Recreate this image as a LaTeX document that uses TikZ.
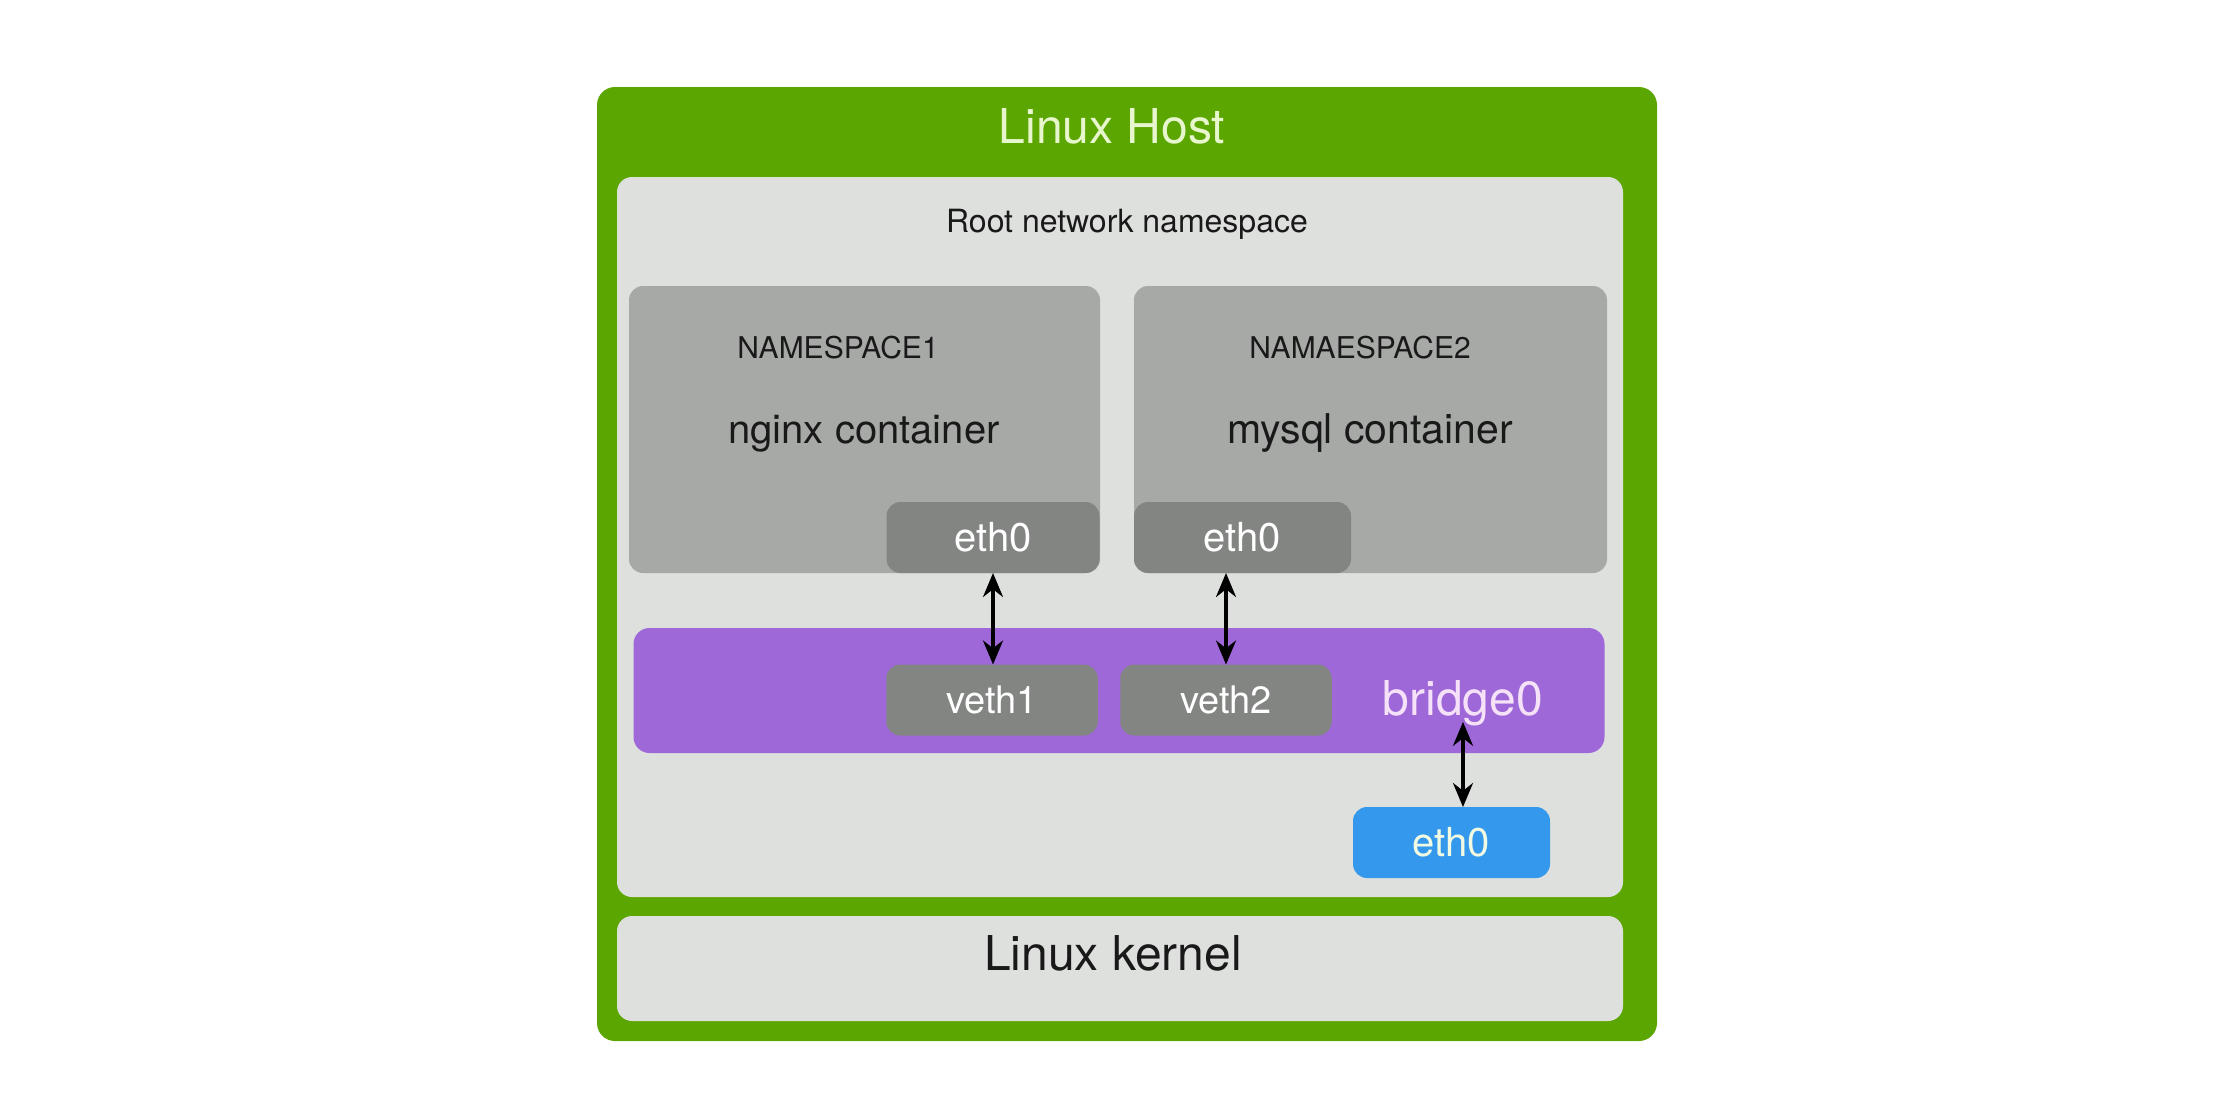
\documentclass[tikz,border=0pt]{standalone}
\usepackage{fontspec}
\setmainfont{TeX Gyre Heros}
\usetikzlibrary{arrows.meta}
\definecolor{hostgreen}{RGB}{91,166,0}
\definecolor{panelgray}{RGB}{222,224,222}
\definecolor{nsgray}{RGB}{167,169,167}
\definecolor{ifgray}{RGB}{131,133,131}
\definecolor{bridgepurple}{RGB}{158,104,216}
\definecolor{hostblue}{RGB}{52,153,236}
\definecolor{hosttext}{RGB}{232,246,206}
\definecolor{bridgetext}{RGB}{246,226,248}
\definecolor{darktext}{RGB}{25,25,25}
\tikzset{
  panel/.style={rectangle, rounded corners=#1, inner sep=0pt, outer sep=0pt},
  panel/.default=7pt,
  iface/.style={panel=7pt, fill=ifgray, text=white, font=\fontsize{20}{24}\selectfont,
    minimum width=106.5pt, minimum height=35.5pt},
  title/.style={anchor=base, inner sep=0pt, text=darktext},
  link/.style={draw=black, line width=1.7pt, {Stealth[length=12pt,width=10pt]}-{Stealth[length=12pt,width=10pt]}}
}
\begin{document}
\begin{tikzpicture}[x=0.5pt,y=-0.5pt]
\useasboundingbox (0,0) rectangle (2240,1120);
\fill[white] (0,0) rectangle (2240,1120);
% outer host
\node[panel=9pt, fill=hostgreen, minimum width=530pt, minimum height=477pt] (host) at (1127,564) {};
\node[title, text=hosttext, font=\fontsize{24}{28}\selectfont] (hostlabel) at (1112,143) {Linux Host};
% root namespace
\node[panel=7.5pt, fill=panelgray, minimum width=503pt, minimum height=360pt] (root) at (1120,537) {};
\node[title, font=\fontsize{16}{19}\selectfont] (rootlabel) at (1127,232) {Root network namespace};
% kernel
\node[panel=7.5pt, fill=panelgray, minimum width=503pt, minimum height=52.5pt] (kernel) at (1120,968.5) {};
\node[title, font=\fontsize{24}{28}\selectfont] (kernellabel) at (1113,970) {Linux kernel};
% namespaces
\node[panel=7pt, fill=nsgray, minimum width=235.5pt, minimum height=143.5pt] (ns1) at (864.5,429.5) {};
\node[panel=7pt, fill=nsgray, minimum width=236.5pt, minimum height=143.5pt] (ns2) at (1370.5,429.5) {};
\node[title, font=\fontsize{15}{18}\selectfont] (ns1label) at (838,358) {NAMESPACE1};
\node[title, font=\fontsize{15}{18}\selectfont] (ns2label) at (1360,358) {NAMAESPACE2};
\node[title, font=\fontsize{20}{24}\selectfont] (ns1c) at (864,443) {nginx container};
\node[title, font=\fontsize{20.5}{24}\selectfont] (ns2c) at (1370,443) {mysql container};
\node[iface] (etha) at (993,537.5) {eth0};
\node[iface, minimum width=108.5pt] (ethb) at (1242.5,537.5) {eth0};
% bridge
\node[panel=8pt, fill=bridgepurple, minimum width=485.5pt, minimum height=62.5pt] (bridge) at (1119,690.5) {};
\node[iface, font=\fontsize{19}{23}\selectfont, minimum width=105.75pt] (veth1) at (992,700) {veth1};
\node[iface, font=\fontsize{19}{23}\selectfont, minimum width=105.75pt] (veth2) at (1226,700) {veth2};
\node[title, text=bridgetext, font=\fontsize{24}{28}\selectfont] (bridgelabel) at (1463,715) {bridge0};
% host eth0
\node[iface, fill=hostblue, text=hosttext!60!white, minimum width=98.5pt] (ethh) at (1451.5,842.5) {eth0};
% links
\draw[link] (etha.south) -- (veth1.north -| etha.south);
\draw[link] (veth2.north |- ethb.south) -- (veth2.north);
\draw[link] (bridgelabel.south) ++(0,-4) coordinate (bl) (bl) -- (bl |- ethh.north);
\end{tikzpicture}
\end{document}
